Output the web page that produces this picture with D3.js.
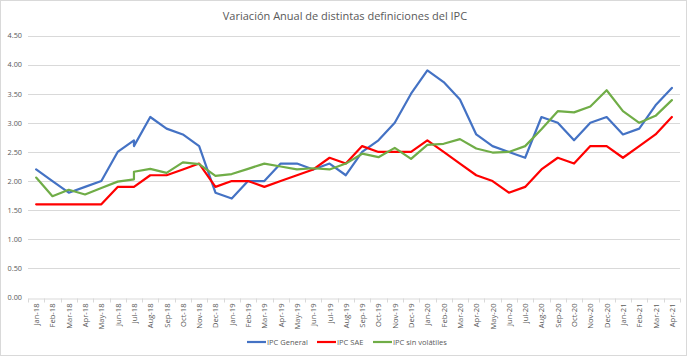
<!DOCTYPE html>
<html><head><meta charset="utf-8">
<script src="https://cdn.jsdelivr.net/npm/d3@7"></script>
<style>body{margin:0;background:#fff}svg{display:block}</style>
</head><body>
<svg id="c" width="688" height="357"></svg>
<script>
const title = "Variación Anual de distintas definiciones del IPC";
const months = ["Jan-18","Feb-18","Mar-18","Apr-18","May-18","Jun-18","Jul-18","Aug-18","Sep-18","Oct-18","Nov-18","Dec-18",
"Jan-19","Feb-19","Mar-19","Apr-19","May-19","Jun-19","Jul-19","Aug-19","Sep-19","Oct-19","Nov-19","Dec-19",
"Jan-20","Feb-20","Mar-20","Apr-20","May-20","Jun-20","Jul-20","Aug-20","Sep-20","Oct-20","Nov-20","Dec-20",
"Jan-21","Feb-21","Mar-21","Apr-21"];
// Jul-18 appears twice in the source series (a break in the data)
const pointMonths = months.slice(0,7).concat(["Jul-18"], months.slice(7));
const ipcGeneral = [2.2,2.0,1.8,1.9,2.0,2.5,2.7,2.6,3.1,2.9,2.8,2.6,1.8,
1.7,2.0,2.0,2.3,2.3,2.2,2.3,2.1,2.5,2.7,3.0,3.5,
3.9,3.7,3.4,2.8,2.6,2.5,2.4,3.1,3.0,2.7,3.0,3.1,
2.8,2.9,3.3,3.6];
const ipcSAE = [1.6,1.6,1.6,1.6,1.6,1.9,1.9,1.9,2.1,2.1,2.2,2.3,1.9,
2.0,2.0,1.9,2.0,2.1,2.2,2.4,2.3,2.6,2.5,2.5,2.5,
2.7,2.5,2.3,2.1,2.0,1.8,1.9,2.2,2.4,2.3,2.6,2.6,
2.4,2.6,2.8,3.1];
const ipcSinVol = [2.06,1.74,1.85,1.77,1.88,1.99,2.03,2.16,2.21,2.14,2.32,2.29,2.09,
2.12,2.21,2.30,2.25,2.20,2.22,2.20,2.30,2.47,2.41,2.57,2.38,
2.62,2.64,2.72,2.56,2.49,2.50,2.60,2.89,3.20,3.18,3.28,3.56,
3.20,3.00,3.12,3.39];
const seriesNames = ["IPC General","IPC SAE","IPC sin volátiles"];
const seriesColors = ["#4472C4","#FF0000","#70AD47"];
const yTicks = [0,0.5,1,1.5,2,2.5,3,3.5,4,4.5];

const svg = d3.select("#c");
const font = "'Open Sans', 'Liberation Sans', sans-serif";
const txt = "#595959";

svg.append("rect").attr("x",0.5).attr("y",0.5).attr("width",686).attr("height",355)
  .attr("fill","#fff").attr("stroke","#d9d9d9");

const x = d3.scaleBand().domain(months).range([28,680]).padding(0);
const y = d3.scaleLinear().domain([0,4.5]).range([297.5,35.5]);

// gridlines
svg.append("g").selectAll("line").data(yTicks.slice(1)).join("line")
  .attr("x1",28).attr("x2",680).attr("y1",d=>Math.round(y(d))+0.5).attr("y2",d=>Math.round(y(d))+0.5)
  .attr("stroke","#d9d9d9").attr("stroke-width",1);

// y axis labels
const ya = svg.append("g").attr("transform","translate(22,0)")
  .call(d3.axisLeft(y).tickValues(yTicks).tickFormat(d3.format(".2f")).tickSize(0).tickPadding(0));
ya.select(".domain").remove();
ya.selectAll("text").attr("font-family",font).attr("font-size",7.3).attr("fill",txt);

// x axis
const xa = svg.append("g").attr("transform","translate(0,"+(Math.round(y(0))+0.5)+")")
  .call(d3.axisBottom(x).tickSize(0).tickPadding(0));
xa.select(".domain").attr("stroke","#d9d9d9");
xa.selectAll("text").attr("font-family",font).attr("font-size",7.6).attr("fill",txt)
  .attr("text-anchor","end").attr("transform","translate(3,5) rotate(-90)").attr("dy",0).attr("dx",0);
// tick marks at category boundaries
xa.append("g").selectAll("line").data(months.concat(["__end"])).join("line")
  .attr("x1",(d,i)=>i<months.length?Math.round(x(d))+0.5:680.5)
  .attr("x2",(d,i)=>i<months.length?Math.round(x(d))+0.5:680.5)
  .attr("y1",0).attr("y2",4).attr("stroke","#d9d9d9");

// lines
const data = [ipcGeneral, ipcSAE, ipcSinVol];
const line = d3.line().x((d,i)=>x(pointMonths[i])+x.bandwidth()/2).y(d=>y(d));
svg.append("g").selectAll("path").data(data).join("path")
  .attr("d",line).attr("fill","none").attr("stroke",(d,i)=>seriesColors[i])
  .attr("stroke-width",2.2).attr("stroke-linejoin","round").attr("stroke-linecap","round");

// title
svg.append("text").attr("x",345).attr("y",19.5).attr("text-anchor","middle")
  .attr("font-family",font).attr("font-size",11).attr("fill",txt).text(title);

// legend
const legX = [247,317,373];
const lg = svg.append("g").selectAll("g").data(seriesNames).join("g")
  .attr("transform",(d,i)=>"translate("+legX[i]+",342)");
lg.append("line").attr("x1",0).attr("x2",19).attr("y1",0).attr("y2",0)
  .attr("stroke",(d,i)=>seriesColors[i]).attr("stroke-width",2.2);
lg.append("text").attr("x",20).attr("y",2.6).attr("font-family",font).attr("font-size",7.5)
  .attr("fill",txt).text(d=>d);
</script>
</body></html>
